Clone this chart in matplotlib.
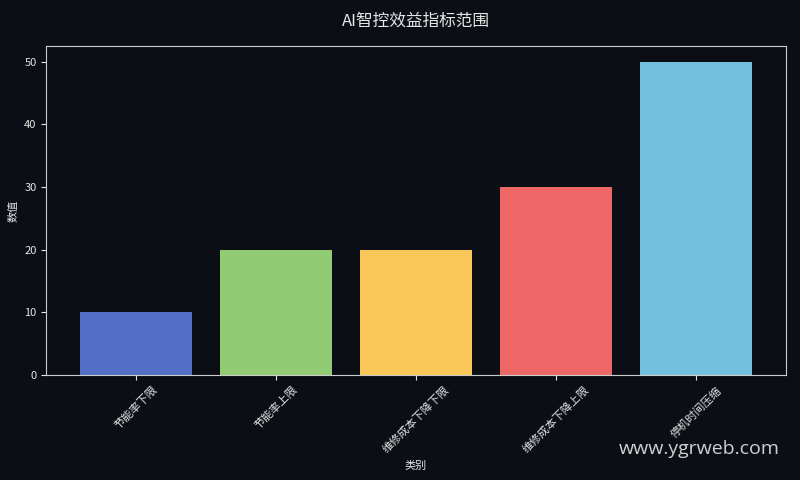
import matplotlib

matplotlib.use("Agg")
import matplotlib.pyplot as plt

plt.rcParams["font.family"] = ["Noto Sans CJK SC", "DejaVu Sans"]

categories = ["节能率下限", "节能率上限", "维修成本下降下限", "维修成本下降上限", "停机时间压缩"]
values = [10, 20, 20, 30, 50]
colors = ["#5470c6", "#91cc75", "#fac858", "#ee6666", "#73c0de"]

bg = "#0b0e15"
fg = "#e6e6e6"

fig, ax = plt.subplots(figsize=(8, 4.8), dpi=100)
fig.patch.set_facecolor(bg)
ax.set_facecolor(bg)

ax.bar(categories, values, color=colors, width=0.8)

ax.set_title("AI智控效益指标范围", color=fg, fontsize=12, pad=15)
ax.set_xlabel("类别", color=fg, fontsize=8)
ax.set_ylabel("数值", color=fg, fontsize=8)
ax.tick_params(colors=fg, labelsize=8)
plt.setp(ax.get_xticklabels(), rotation=45)
for s in ax.spines.values():
    s.set_color("#cccccc")

fig.subplots_adjust(left=0.058, right=0.982, top=0.904, bottom=0.219)
fig.text(0.975, 0.065, "www.ygrweb.com", color="#d0d0d0", fontsize=14,
         ha="right", va="center", family=["Open Sans", "DejaVu Sans"])

fig.savefig("out.png", facecolor=bg)
